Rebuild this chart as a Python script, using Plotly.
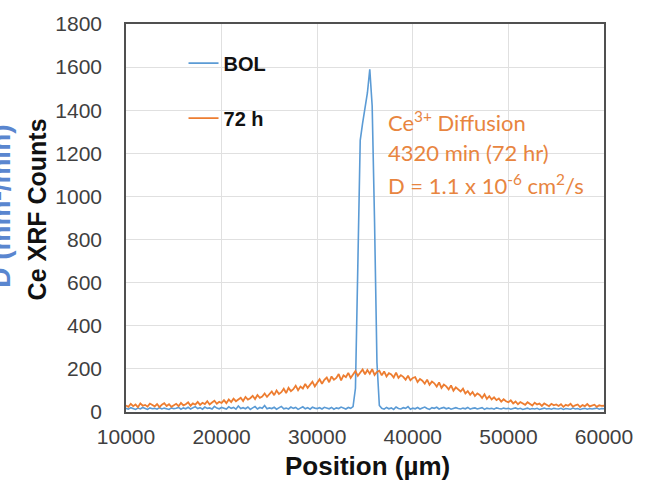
import plotly.graph_objects as go

# Positions (µm), regular scan grid
positions = list(range(10000, 60001, 250))

# BOL Ce XRF counts
bol_counts = [
    17, 13, 20, 15, 12, 18, 14, 21, 16, 12, 19, 15, 17, 13, 20, 14, 18, 16, 12, 19, 15,
    17, 21, 13, 19, 15, 22, 14, 18, 25, 16, 20, 13, 23, 17, 19, 14, 26, 18, 15, 21,
    19, 14, 24, 17, 21, 13, 28, 16, 20, 15, 23, 12, 19, 25, 14, 21, 17, 30, 15, 19,
    16, 22, 13, 20, 26, 15, 18, 14, 23, 17, 21, 12, 19, 24, 15, 20, 13, 22, 18, 16,
    20, 14, 22, 17, 15, 21, 13, 19, 16, 23, 18, 14, 21, 17, 25, 110, 680, 1260, 1340, 1410,
    1480, 1590, 1420, 880, 230, 30, 17, 13, 21, 15, 19, 12, 23, 16, 14, 20, 17, 25, 13, 18,
    15, 21, 14, 19, 23, 16, 12, 20, 17, 22, 14, 18, 21, 15, 19, 13, 17, 20, 16, 14,
    18, 15, 21, 13, 17, 19, 14, 16, 20, 12, 18, 15, 17, 13, 19, 16, 14, 18, 15, 17,
    13, 16, 19, 14, 17, 12, 15, 18, 13, 16, 14, 17, 12, 15, 18, 14, 16, 13, 17, 15,
    14, 17, 12, 16, 15, 13, 18, 14, 16, 12, 15, 17, 13, 16, 14, 15, 18, 13, 16, 15,
]

# 72 h Ce XRF counts
h72_counts = [
    30, 24, 38, 27, 35, 22, 40, 29, 33, 25, 39, 31, 26, 37, 23, 34, 41, 28, 36, 24, 33,
    38, 27, 42, 31, 36, 45, 29, 40, 34, 47, 33, 43, 37, 50, 35, 44, 52, 38, 47, 42,
    55, 41, 58, 46, 62, 50, 57, 66, 51, 70, 58, 64, 75, 60, 79, 66, 72, 86, 70, 82,
    95, 78, 100, 84, 92, 108, 88, 112, 97, 106, 122, 101, 118, 109, 130, 112, 125, 141, 119, 136,
    152, 131, 149, 160, 138, 165, 150, 158, 176, 147, 170, 162, 181, 158, 176, 190, 168, 184, 197, 175,
    195, 178, 199, 172, 186, 192, 170, 188, 165, 180, 174, 160, 183, 158, 171, 163, 150, 168, 147, 158,
    162, 139, 153, 145, 131, 150, 126, 141, 133, 118, 137, 112, 127, 119, 105, 123, 99, 114, 106, 95,
    108, 86, 97, 80, 93, 74, 86, 79, 65, 82, 61, 73, 58, 68, 55, 63, 48, 59, 50, 45,
    54, 40, 49, 36, 46, 41, 33, 45, 37, 30, 43, 35, 39, 28, 40, 33, 27, 38, 31, 35,
    28, 36, 24, 33, 29, 38, 25, 31, 35, 23, 32, 27, 37, 26, 30, 34, 24, 31, 28, 29,
]

series_names = ["BOL", "72 h"]
series_colors = ["#5B9BD5", "#ED7D31"]
x_ticks = [10000, 20000, 30000, 40000, 50000, 60000]
y_ticks = [0, 200, 400, 600, 800, 1000, 1200, 1400, 1600, 1800]

fig = go.Figure()
fig.add_trace(go.Scatter(x=positions, y=bol_counts, mode="lines", name=series_names[0],
                         line=dict(color=series_colors[0], width=1.6), legendgroup="a"))
fig.add_trace(go.Scatter(x=positions, y=h72_counts, mode="lines", name=series_names[1],
                         line=dict(color=series_colors[1], width=1.8), legendgroup="b"))

L, R, T, B = 126, 37, 17, 78
W, H = 645, 490
pw = W - L - R
ph = H - T - B

def px_x(px):
    return (px - L) / pw

def px_y(py):
    return 1 - (py - T) / ph

ARIAL = "Liberation Sans, Arial, sans-serif"
tick_font = dict(family=ARIAL, size=21, color="#404040")
ann_font = dict(family="Lato, Carlito, sans-serif", size=22, color="#E8853F")

fig.update_layout(
    width=W, height=H,
    margin=dict(l=L, r=R, t=T, b=B),
    paper_bgcolor="white", plot_bgcolor="white",
    showlegend=True,
    legend=dict(x=px_x(184), y=px_y(37), xanchor="left", yanchor="top",
                bgcolor="rgba(0,0,0,0)", tracegroupgap=26,
                font=dict(family=ARIAL, size=20, color="#111111", weight="bold"),
                itemwidth=30),
    xaxis=dict(range=[10000, 60000], tickvals=x_ticks, ticktext=[str(v) for v in x_ticks],
               showgrid=True, gridcolor="#e0e0e0", gridwidth=1, zeroline=False,
               showline=True, linecolor="#505050", linewidth=1.6, mirror=True,
               ticks="", tickfont=tick_font, ticklabelstandoff=5),
    yaxis=dict(range=[0, 1800], tickvals=y_ticks, ticktext=[str(v) for v in y_ticks],
               showgrid=True, gridcolor="#e0e0e0", gridwidth=1, zeroline=False,
               showline=True, linecolor="#505050", linewidth=1.6, mirror=True,
               ticks="", tickfont=tick_font, ticklabelstandoff=18),
    annotations=[
        dict(text="Position (µm)", xref="paper", yref="paper", x=px_x(370), y=px_y(467),
             xanchor="center", yanchor="middle", showarrow=False,
             font=dict(family=ARIAL, size=26, color="#111111", weight="bold")),
        dict(text="Ce XRF Counts", xref="paper", yref="paper", x=px_x(36), y=px_y(206),
             xanchor="center", yanchor="middle", showarrow=False, textangle=-90,
             font=dict(family=ARIAL, size=25, color="#111111", weight="bold")),
        dict(text="D (mm²/min)", xref="paper", yref="paper", x=px_x(0), y=px_y(203),
             xanchor="center", yanchor="middle", showarrow=False, textangle=-90,
             font=dict(family=ARIAL, size=28, color="#5A86CF", weight="bold")),
        dict(text="Ce<sup>3+</sup> Diffusion", xref="paper", yref="paper", x=px_x(388), y=px_y(116),
             xanchor="left", yanchor="middle", showarrow=False, font=ann_font),
        dict(text="4320 min (72 hr)", xref="paper", yref="paper", x=px_x(388), y=px_y(148),
             xanchor="left", yanchor="middle", showarrow=False, font=ann_font),
        dict(text="D = 1.1 x 10<sup>-6</sup> cm<sup>2</sup>/s", xref="paper", yref="paper",
             x=px_x(388), y=px_y(180),
             xanchor="left", yanchor="middle", showarrow=False, font=ann_font),
    ],
)

fig.write_html("out.html", config={"displayModeBar": False},
               post_script="document.body.style.margin='0';document.body.style.overflow='hidden';")
